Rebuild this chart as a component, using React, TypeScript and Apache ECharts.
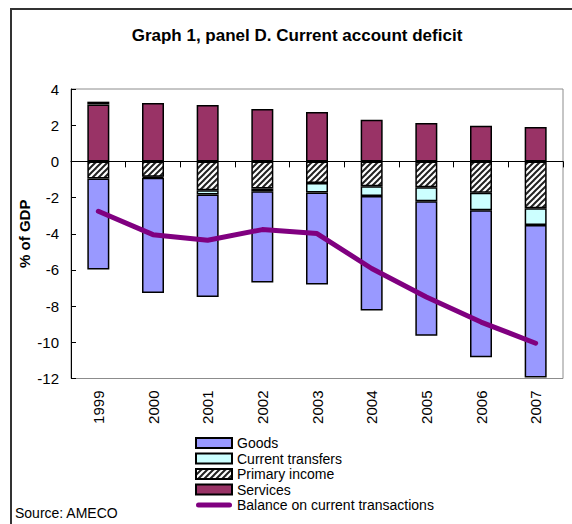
import React, { useEffect, useRef } from "react";
import * as echarts from "echarts";

const years = ["1999", "2000", "2001", "2002", "2003", "2004", "2005", "2006", "2007"];
const services = [3.15, 3.22, 3.11, 2.89, 2.73, 2.3, 2.12, 1.97, 1.9];
const primaryIncome = [-0.95, -0.85, -1.6, -1.5, -1.19, -1.37, -1.43, -1.74, -2.59];
const currentTransfers = [0.15, -0.06, -0.23, -0.15, -0.53, -0.54, -0.77, -0.96, -0.92];
const goods = [-5.03, -6.37, -5.67, -5.05, -5.09, -6.33, -7.44, -8.12, -8.44];
const balance = [-2.76, -4.05, -4.36, -3.77, -3.99, -5.92, -7.5, -8.88, -10.05];
const yTicks = { min: -12, max: 4, interval: 2 };

const FONT = 'Arial, "Liberation Sans", sans-serif';

function makeHatch(): HTMLCanvasElement {
  const c = document.createElement("canvas");
  c.width = 6;
  c.height = 6;
  const ctx = c.getContext("2d")!;
  ctx.fillStyle = "#ffffff";
  ctx.fillRect(0, 0, 6, 6);
  ctx.strokeStyle = "#222222";
  ctx.lineWidth = 2;
  ctx.lineCap = "square";
  const segs = [
    [-3, 9, 9, -3],
    [-6, 6, 6, -6],
    [0, 12, 12, 0],
  ];
  for (const s of segs) {
    ctx.beginPath();
    ctx.moveTo(s[0], s[1]);
    ctx.lineTo(s[2], s[3]);
    ctx.stroke();
  }
  return c;
}

const LINE_ICON = "path://M2.5,0 L33.5,0 A2.5,2.5 0 0 1 33.5,5 L2.5,5 A2.5,2.5 0 0 1 2.5,0 Z";

export default function App() {
  const ref = useRef<HTMLDivElement>(null);
  useEffect(() => {
    if (!ref.current) return;
    const chart = echarts.init(ref.current, null, { renderer: "svg" });
    const hatch = makeHatch();
    const border = { borderColor: "#000", borderWidth: 1.5 };
    const barCommon = {
      type: "bar" as const,
      stack: "total",
      barWidth: 22,
      xAxisIndex: 0,
      yAxisIndex: 0,
    };
    chart.setOption({
      animation: false,
      backgroundColor: "#ffffff",
      textStyle: { fontFamily: FONT },
      grid: {
        left: 71,
        top: 89,
        width: 492,
        height: 289.5,
        show: true,
        borderColor: "#8c8c8c",
        borderWidth: 1,
        backgroundColor: "transparent",
      },
      xAxis: [
        {
          type: "category",
          data: years,
          position: "bottom",
          axisLine: { onZero: true, lineStyle: { color: "#000", width: 1 } },
          axisTick: { show: true, length: 6, lineStyle: { color: "#000" } },
          axisLabel: { show: false },
          splitLine: { show: false },
        },
        {
          type: "category",
          data: years,
          position: "bottom",
          axisLine: { show: false, onZero: false },
          axisTick: { show: false },
          axisLabel: {
            rotate: 90,
            margin: 12,
            fontSize: 15,
            color: "#000",
            fontFamily: FONT,
          },
          splitLine: { show: false },
        },
      ],
      yAxis: {
        type: "value",
        min: yTicks.min,
        max: yTicks.max,
        interval: yTicks.interval,
        name: "% of GDP",
        nameLocation: "middle",
        nameRotate: 90,
        nameGap: 39,
        nameMoveOverlap: false,
        nameTextStyle: { fontSize: 15, fontWeight: "bold", color: "#000", fontFamily: FONT },
        axisLine: { show: true, lineStyle: { color: "#000", width: 1 } },
        axisTick: { show: true, inside: true, length: 5, lineStyle: { color: "#000" } },
        axisLabel: { fontSize: 15, color: "#000", margin: 12, fontFamily: FONT },
        splitLine: { show: false },
      },
      legend: {
        orient: "vertical",
        left: 195,
        top: 435.5,
        itemWidth: 36,
        itemHeight: 10,
        itemGap: 0.5,
        padding: 0,
        selectedMode: false,
        textStyle: { fontSize: 14, color: "#000", fontFamily: FONT, lineHeight: 15 },
        data: [
          { name: "Goods", icon: "rect" },
          { name: "Current transfers", icon: "rect" },
          { name: "Primary income", icon: "rect" },
          { name: "Services", icon: "rect" },
          {
            name: "Balance on current transactions",
            icon: LINE_ICON,
            itemStyle: { color: "#800080", borderWidth: 0 },
          },
        ],
      },
      graphic: [
        {
          type: "rect",
          shape: { x: 11, y: 9, width: 700, height: 700 },
          style: { fill: "none", stroke: "#333", lineWidth: 2 },
          silent: true,
          z: 100,
        },
        {
          type: "text",
          x: 297,
          y: 35,
          style: {
            text: "Graph 1, panel D. Current account deficit",
            font: `bold 17px ${FONT}`,
            fill: "#000",
            textAlign: "center",
            textVerticalAlign: "middle",
          },
        },
        {
          type: "text",
          x: 15,
          y: 512.5,
          style: {
            text: "Source: AMECO",
            font: `14px ${FONT}`,
            fill: "#000",
            textAlign: "left",
            textVerticalAlign: "middle",
          },
        },
      ],
      series: [
        {
          ...barCommon,
          name: "Services",
          data: services,
          itemStyle: { color: "#993366", ...border },
        },
        {
          ...barCommon,
          name: "Primary income",
          data: primaryIncome,
          itemStyle: { color: { image: hatch, repeat: "repeat" }, ...border },
        },
        {
          ...barCommon,
          name: "Current transfers",
          data: currentTransfers,
          itemStyle: { color: "#ccffff", ...border },
        },
        {
          ...barCommon,
          name: "Goods",
          data: goods,
          itemStyle: { color: "#9999ff", ...border },
        },
        {
          type: "line",
          name: "Balance on current transactions",
          data: balance,
          xAxisIndex: 0,
          yAxisIndex: 0,
          symbol: "none",
          showSymbol: false,
          lineStyle: { color: "#800080", width: 5, cap: "round", join: "round" },
          itemStyle: { color: "#800080" },
          z: 5,
        },
      ],
    });
    return () => chart.dispose();
  }, []);
  return (
    <div
      ref={ref}
      style={{ position: "fixed", left: 0, top: 0, width: 572, height: 524, background: "#fff" }}
    />
  );
}
